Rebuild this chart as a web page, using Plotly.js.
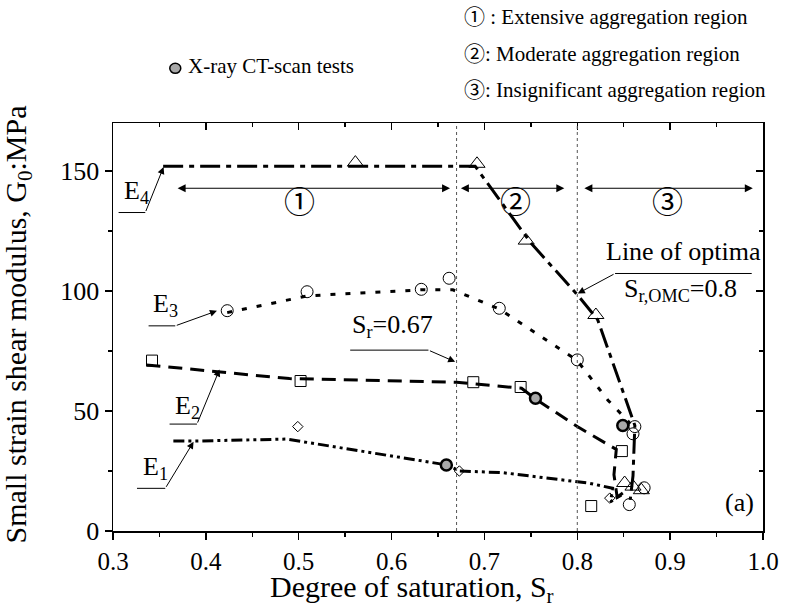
<!DOCTYPE html>
<html>
<head>
<meta charset="utf-8">
<script src="https://cdn.plot.ly/plotly-3.0.1.min.js"></script>
<style>html,body{margin:0;padding:0;background:#fff;}#chart{width:788px;height:608px;}</style>
</head>
<body>
<div id="chart"></div>
<script>
// ---- data ----
const e4X = [0.561, 0.692, 0.745, 0.820, 0.851, 0.860, 0.869];
const e4Y = [153.5, 153, 121, 90, 20, 18.5, 17];
const e4LineX = [0.354, 0.690, 0.750, 0.800, 0.822, 0.862, 0.860, 0.857];
const e4LineY = [152, 152, 120, 98.5, 88, 44, 23, 13];

const e3X = [0.423, 0.509, 0.632, 0.662, 0.716, 0.800, 0.862, 0.860, 0.872, 0.856];
const e3Y = [91.8, 99.7, 100.7, 105.3, 92.8, 71.3, 43.5, 40.5, 18, 11];
const e3LineX = [0.423, 0.510, 0.632, 0.666, 0.716, 0.800, 0.833, 0.857];
const e3LineY = [91, 98, 100.5, 100.5, 92.5, 71, 54.5, 44.8];

const e2X = [0.342, 0.502, 0.688, 0.739, 0.848, 0.815];
const e2Y = [71, 62.5, 62, 60, 33.3, 10.4];
const e2LineX = [0.336, 0.490, 0.670, 0.740, 0.755, 0.800, 0.842, 0.8395, 0.843, 0.852];
const e2LineY = [69.2, 63.5, 62, 59.5, 55, 43.5, 34, 23.5, 14, 16];

const e1X = [0.499, 0.673, 0.835];
const e1Y = [43.5, 25, 13.7];
const e1LineX = [0.365, 0.390, 0.487, 0.660, 0.673, 0.720, 0.813, 0.838, 0.836, 0.849];
const e1LineY = [37.5, 37.5, 38.3, 27.5, 25, 24.3, 19.9, 17.8, 12.2, 15.8];

const ctX = [0.659, 0.755, 0.849];
const ctY = [27.5, 55.3, 44];

const refLines = [0.67, 0.8];
const regionSpans = [[0.368, 0.663], [0.673, 0.786], [0.806, 0.989]];
const regionLabels = ['①', '②', '③'];
const regionLabelX = [0.501, 0.733, 0.897];
const legendLines = ['① : Extensive aggregation region', '②: Moderate aggregation region', '③: Insignificant aggregation region'];

// ---- geometry helpers (plot area in px) ----
const L = 112.7, R = 763, T = 122.7, B = 531;
const XR = [0.3, 1.0], YR = [0, 170];
const dx = px => XR[0] + (px - L) / (R - L) * (XR[1] - XR[0]);
const dy = py => YR[0] + (B - py) / (B - T) * (YR[1] - YR[0]);
const pxp = px => (px - L) / (R - L);
const pyp = py => (B - py) / (B - T);

const FONT = '"Liberation Serif", "Times New Roman", "Noto Sans CJK JP", serif';
const black = '#000';

function lineTrace(x, y, dash) {
  return {x: x, y: y, mode: 'lines', type: 'scatter', showlegend: false, hoverinfo: 'skip',
          line: {color: black, width: 3, dash: dash}};
}
function markTrace(x, y, sym, size) {
  return {x: x, y: y, mode: 'markers', type: 'scatter', showlegend: false,
          marker: {symbol: sym, size: size, color: black, line: {color: black, width: 1}}};
}

const data = [
  lineTrace(e4LineX, e4LineY, '20px,6px,5px,6px'),
  lineTrace(e3LineX, e3LineY, '5px,10px'),
  lineTrace(e2LineX, e2LineY, '14px,8px'),
  lineTrace(e1LineX, e1LineY, '11px,4px,3px,4px,3px,4px'),
  markTrace(e4X, e4Y, 'triangle-up-open', 14),
  markTrace(e3X, e3Y, 'circle-open', 12),
  markTrace(e2X, e2Y, 'square-open', 11),
  markTrace(e1X, e1Y, 'diamond-open', 8),
  {x: ctX, y: ctY, mode: 'markers', type: 'scatter', showlegend: false,
   marker: {symbol: 'circle', size: 11, color: '#a8a8a8', line: {color: black, width: 2.5}}},
  {x: [], y: [], xaxis: 'x2', yaxis: 'y2', type: 'scatter', showlegend: false}
];

const shapes = [];
refLines.forEach(v => shapes.push({type: 'line', xref: 'x', yref: 'paper', x0: v, x1: v, y0: 0, y1: 1,
  line: {color: '#555', width: 1, dash: 'dot'}}));

const annotations = [];
// region double arrows and circled labels
regionSpans.forEach((s, i) => {
  annotations.push({xref: 'x', yref: 'y', axref: 'x', ayref: 'y', x: s[1], y: dy(188), ax: s[0], ay: dy(188),
    text: '', showarrow: true, arrowside: 'end+start', arrowhead: 2, startarrowhead: 2,
    arrowsize: 1.6, startarrowsize: 1.6, arrowwidth: 1, arrowcolor: black});
  annotations.push({xref: 'x', yref: 'y', x: regionLabelX[i], y: dy(202), text: regionLabels[i], showarrow: false,
    font: {family: FONT, size: 31, color: black}, xanchor: 'center', yanchor: 'middle'});
});

// labelled pointers
function pointer(text, tx, ty, ux0, ux1, uy, fromLeft, tipx, tipy) {
  annotations.push({xref: 'x', yref: 'y', x: dx(tx), y: dy(ty), text: text, showarrow: false,
    xanchor: 'left', yanchor: 'middle', font: {family: FONT, size: 26, color: black}});
  shapes.push({type: 'line', xref: 'x', yref: 'y', x0: dx(ux0), x1: dx(ux1), y0: dy(uy), y1: dy(uy),
    line: {color: black, width: 1}});
  const sx = fromLeft ? ux0 : ux1;
  annotations.push({xref: 'x', yref: 'y', axref: 'x', ayref: 'y', x: dx(tipx), y: dy(tipy), ax: dx(sx), ay: dy(uy),
    text: '', showarrow: true, arrowhead: 2, arrowsize: 1.4, arrowwidth: 1, arrowcolor: black});
}
pointer('E<sub>4</sub>', 122, 192, 118.3, 145, 212.3, false, 163.3, 166.7);
pointer('E<sub>3</sub>', 151, 305, 148.3, 175, 325.7, false, 216.7, 310.7);
pointer('E<sub>2</sub>', 173, 407, 169.3, 196.7, 424, false, 219.3, 369.3);
pointer('E<sub>1</sub>', 141, 468, 136.7, 165, 488.3, false, 193.3, 441.7);
pointer('S<sub>r</sub>=0.67', 350, 326, 350, 428.3, 350, false, 455, 361.7);
pointer('Line of optima', 604, 251, 615, 751.7, 273.3, true, 577.7, 293.3);
annotations.push({xref: 'x', yref: 'y', x: dx(622), y: dy(290), text: 'S<sub>r,OMC</sub>=0.8', showarrow: false,
  xanchor: 'left', yanchor: 'middle', font: {family: FONT, size: 26, color: black}});
annotations.push({xref: 'x', yref: 'y', x: dx(756), y: dy(502), text: '(a)', showarrow: false,
  xanchor: 'right', yanchor: 'middle', font: {family: FONT, size: 26, color: black}});

// top legend text
const legY = [17, 54, 90];
legendLines.forEach((t, i) => annotations.push({xref: 'paper', yref: 'paper', x: pxp(462), y: pyp(legY[i]),
  text: t, showarrow: false, xanchor: 'left', yanchor: 'middle', font: {family: FONT, size: 21, color: black}}));
annotations.push({xref: 'paper', yref: 'paper', x: pxp(186), y: pyp(66), text: 'X-ray CT-scan tests',
  showarrow: false, xanchor: 'left', yanchor: 'middle', font: {family: FONT, size: 21, color: black}});
shapes.push({type: 'circle', xref: 'paper', yref: 'paper', xsizemode: 'pixel', ysizemode: 'pixel',
  xanchor: pxp(175), yanchor: pyp(68), x0: -5.5, x1: 5.5, y0: -5, y1: 5,
  fillcolor: '#a8a8a8', line: {color: black, width: 1.5}});

// axis titles
annotations.push({xref: 'paper', yref: 'paper', x: pxp(268), y: pyp(589), text: 'Degree of saturation, S<sub>r</sub>',
  showarrow: false, xanchor: 'left', yanchor: 'middle', font: {family: FONT, size: 30, color: black}});
annotations.push({xref: 'paper', yref: 'paper', x: pxp(18), y: pyp(324), textangle: -90,
  text: 'Small strain shear modulus, G<sub>0</sub>:MPa',
  showarrow: false, xanchor: 'center', yanchor: 'middle', font: {family: FONT, size: 30, color: black}});

const axBase = {showgrid: false, zeroline: false, color: black, linecolor: black, tickcolor: black,
  tickwidth: 1.5, ticklen: 7};
const layout = {
  width: 788, height: 608,
  margin: {l: L, r: 788 - R, t: T, b: 608 - B, pad: 0},
  paper_bgcolor: '#fff', plot_bgcolor: '#fff',
  showlegend: false,
  font: {family: FONT, color: black},
  xaxis: Object.assign({}, axBase, {range: XR, tick0: 0.3, dtick: 0.1, tickformat: '.1f', ticks: 'outside',
    showline: true, linewidth: 1.5, mirror: true, tickfont: {family: FONT, size: 25},
    minor: {dtick: 0.05, ticks: 'outside', ticklen: 4, tickwidth: 1.5, tickcolor: black}}),
  yaxis: Object.assign({}, axBase, {range: YR, tick0: 0, dtick: 50, ticks: 'outside',
    showline: true, linewidth: 1.5, mirror: true, tickfont: {family: FONT, size: 26},
    minor: {dtick: 25, ticks: 'outside', ticklen: 4, tickwidth: 1.5, tickcolor: black}}),
  xaxis2: Object.assign({}, axBase, {range: XR, overlaying: 'x', side: 'top', anchor: 'y2', tick0: 0.3, dtick: 0.1,
    ticks: 'inside', showticklabels: false, showline: false,
    minor: {dtick: 0.05, ticks: 'inside', ticklen: 4, tickwidth: 1.5, tickcolor: black}}),
  yaxis2: Object.assign({}, axBase, {range: YR, overlaying: 'y', side: 'right', anchor: 'x2', tick0: 0, dtick: 50,
    ticks: 'inside', showticklabels: false, showline: false,
    minor: {dtick: 25, ticks: 'inside', ticklen: 4, tickwidth: 1.5, tickcolor: black}}),
  shapes: shapes,
  annotations: annotations
};
Plotly.newPlot('chart', data, layout, {staticPlot: true, displayModeBar: false});
</script>
</body>
</html>
